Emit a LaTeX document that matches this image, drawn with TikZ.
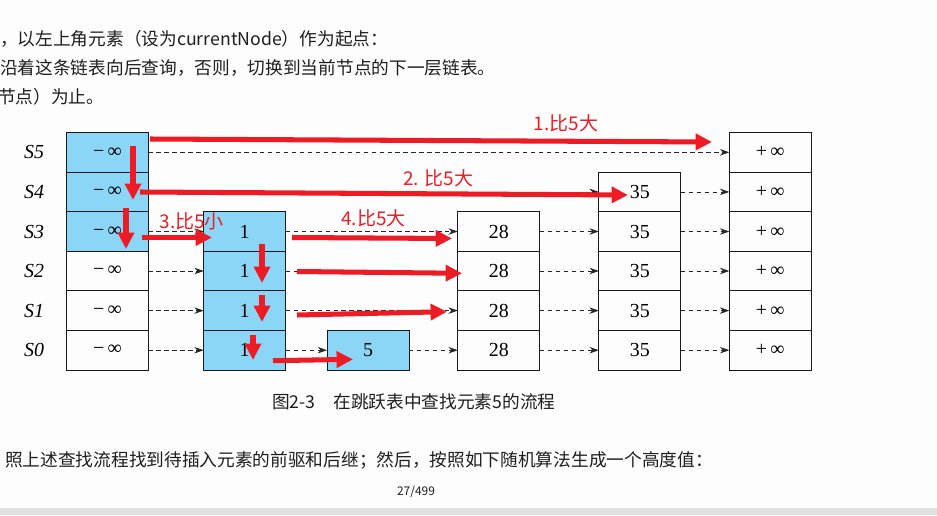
\documentclass[tikz,border=0pt]{standalone}
\usepackage{fontspec}
\usetikzlibrary{arrows.meta}
\newfontfamily\cjk{Noto Sans CJK SC}
\newfontfamily\tms{Liberation Serif}
\definecolor{CellBlue}{RGB}{139,213,246}
\definecolor{MarkRed}{RGB}{237,28,36}
\definecolor{InkGray}{RGB}{30,30,30}
\definecolor{PageGray}{RGB}{253,253,253}
\definecolor{BarGray}{RGB}{224,224,224}
\newcommand{\ninf}{−\,∞}
\newcommand{\pinf}{+\,∞}
\tikzset{
  cell/.style={draw=black!90,line width=0.8pt,minimum width=24.6mm,
    minimum height=11.87mm,inner sep=0pt,outer sep=0pt,
    font=\tms\fontsize{17}{17}\selectfont},
  hot/.style={cell,fill=CellBlue},
  lvl/.style={font=\tms\itshape\fontsize{17}{17}\selectfont},
  link/.style={-{Stealth[length=8pt,width=5.5pt]},line width=0.6pt,
    dash pattern=on 3.8pt off 3pt,black!85},
  redarrow/.style={MarkRed,line width=4.3pt,-{Triangle[length=14pt,width=13.5pt]}},
  redtext/.style={MarkRed,inner sep=0pt,font=\cjk\fontsize{16.2}{16.2}\selectfont},
  bodytext/.style={anchor=west,inner sep=0pt,text=InkGray,
    font=\cjk\fontsize{15.1}{15.1}\selectfont}
}
\begin{document}
\begin{tikzpicture}[x=0.3mm,y=-0.3mm]
  \fill[PageGray] (0,0) rectangle (937,515);
  \fill[BarGray] (0,508) rectangle (937,515);
  \useasboundingbox (0,0) rectangle (937,515);
  % page text
  \node[bodytext] (line1) at (0,39) {，以左上角元素（设为currentNode）作为起点：};
  \node[bodytext] (line2) at (0,68.3) {沿着这条链表向后查询，否则，切换到当前节点的下一层链表。};
  \node[bodytext] (line3) at (-2,96.7) {节点）为止。};
  \node[bodytext] (caption) at (272,401.5) {图2-3\hspace{1em}在跳跃表中查找元素5的流程};
  \node[bodytext] (line4) at (5,460.7) {照上述查找流程找到待插入元素的前驱和后继；然后，按照如下随机算法生成一个高度值：};
  \node[text=InkGray,inner sep=0pt,font=\cjk\fontsize{10.2}{10.2}\selectfont] (pageno) at (416,491.7) {27/499};
  % level names
  \node[lvl] (s5) at (34,152.3) {S5};
  \node[lvl] (s4) at (34,191.9) {S4};
  \node[lvl] (s3) at (34,231.5) {S3};
  \node[lvl] (s2) at (34,271.0) {S2};
  \node[lvl] (s1) at (34,310.6) {S1};
  \node[lvl] (s0) at (34,350.2) {S0};
  % head column
  \node[hot] (hd5) at (107.5,152.3) {\ninf};
  \node[hot] (hd4) at (107.5,191.9) {\ninf};
  \node[hot] (hd3) at (107.5,231.5) {\ninf};
  \node[cell] (hd2) at (107.5,271.0) {\ninf};
  \node[cell] (hd1) at (107.5,310.6) {\ninf};
  \node[cell] (hd0) at (107.5,350.2) {\ninf};
  % key 1
  \node[hot] (ka3) at (244.7,231.5) {1};
  \node[hot] (ka2) at (244.7,271.0) {1};
  \node[hot] (ka1) at (244.7,310.6) {1};
  \node[hot] (ka0) at (244.7,350.2) {1};
  % key 5
  \node[hot] (kb0) at (368,350.2) {5};
  % key 28
  \node[cell] (kc3) at (498.8,231.5) {28};
  \node[cell] (kc2) at (498.8,271.0) {28};
  \node[cell] (kc1) at (498.8,310.6) {28};
  \node[cell] (kc0) at (498.8,350.2) {28};
  % key 35
  \node[cell] (kd4) at (639.8,191.9) {35};
  \node[cell] (kd3) at (639.8,231.5) {35};
  \node[cell] (kd2) at (639.8,271.0) {35};
  \node[cell] (kd1) at (639.8,310.6) {35};
  \node[cell] (kd0) at (639.8,350.2) {35};
  % tail column
  \node[cell] (tl5) at (770.3,152.3) {\pinf};
  \node[cell] (tl4) at (770.3,191.9) {\pinf};
  \node[cell] (tl3) at (770.3,231.5) {\pinf};
  \node[cell] (tl2) at (770.3,271.0) {\pinf};
  \node[cell] (tl1) at (770.3,310.6) {\pinf};
  \node[cell] (tl0) at (770.3,350.2) {\pinf};
  % forward pointers
  \foreach \a/\b in {hd5/tl5, hd4/kd4, kd4/tl4,
      hd3/ka3, ka3/kc3, kc3/kd3, kd3/tl3,
      hd2/ka2, ka2/kc2, kc2/kd2, kd2/tl2,
      hd1/ka1, ka1/kc1, kc1/kd1, kd1/tl1,
      hd0/ka0, ka0/kb0, kb0/kc0, kc0/kd0, kd0/tl0}
    \draw[link] (\a) -- (\b);
  % search path (red marks)
  \foreach \n/\x/\y in {r1a/150/139, r1b/712/142, r2a/140/192, r2b/628/195,
      v1a/133/146, v1b/133/200, v2a/126/208, v2b/126/249,
      r3a/142/237.5, r3b/212/237.5, r4a/292/237.5, r4b/452/238.5,
      v3a/262/244, v3b/262/283, r5a/297/271.5, r5b/462/273.3,
      v4a/262/295, v4b/262/322, r6a/297/315, r6b/447/311.7,
      v5a/253/335, v5b/253/360, r7a/273/360.7, r7b/353/359.3}
    \coordinate (\n) at (\x,\y);
  \foreach \a/\b in {r1a/r1b, r2a/r2b, v1a/v1b, v2a/v2b, r3a/r3b, r4a/r4b,
      v3a/v3b, r5a/r5b, v4a/v4b, r6a/r6b, v5a/v5b, r7a/r7b}
    \draw[redarrow] (\a) -- (\b);
  \node[redtext] (step1) at (566,123) {1.比5大};
  \node[redtext] (step2) at (438,178) {2. 比5大};
  \node[redtext] (step3) at (191.7,221.7) {3.比5小};
  \node[redtext] (step4) at (373.5,218) {4.比5大};
\end{tikzpicture}
\end{document}
